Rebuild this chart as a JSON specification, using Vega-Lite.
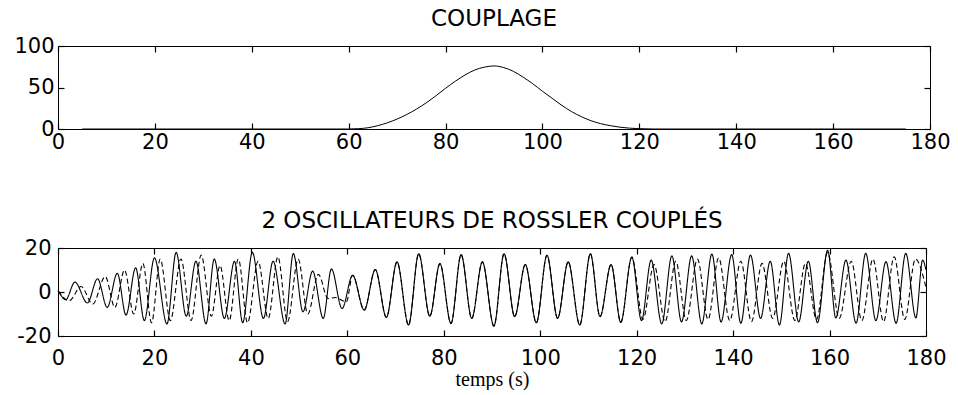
{
  "$schema": "https://vega.github.io/schema/vega-lite/v6.json",
  "background": "white",
  "padding": {"left": 13, "top": 7, "right": 4, "bottom": 0},
  "spacing": 56,
  "config": {
    "font": "DejaVu Sans",
    "view": {"stroke": "black", "strokeWidth": 1},
    "axis": {
      "domain": false, "grid": false, "ticks": true, "tickColor": "#000000", "tickOpacity": 1, "tickSize": 6, "tickWidth": 1.2, "offset": -6,
      "zindex": 2,
      "labelColor": "black", "labelFont": "DejaVu Sans", "labelFontSize": 21, "labelPadding": 5,
      "labelFlush": false, "labelOverlap": false, "labelBound": false, "title": null,
      "labelExpr": "datum.value"
    },
    "title": {"font": "DejaVu Sans", "fontSize": 23, "fontWeight": "normal", "color": "black", "offset": 0}
  },
  "datasets": {
    "coupl": [
      {"t": 5, "c": 0}, {"t": 60, "c": 0}, {"t": 62, "c": 0.4}, {"t": 64, "c": 1.5}, {"t": 66, "c": 4},
      {"t": 68, "c": 7.5}, {"t": 70, "c": 12}, {"t": 72, "c": 17.5}, {"t": 74, "c": 24}, {"t": 76, "c": 31.5},
      {"t": 78, "c": 40}, {"t": 80, "c": 49}, {"t": 82, "c": 57.5}, {"t": 84, "c": 65}, {"t": 86, "c": 71},
      {"t": 88, "c": 74.5}, {"t": 90, "c": 76}, {"t": 92, "c": 74}, {"t": 94, "c": 69.5}, {"t": 96, "c": 62.5},
      {"t": 98, "c": 54.5}, {"t": 100, "c": 45.5}, {"t": 102, "c": 37}, {"t": 104, "c": 28.5}, {"t": 106, "c": 21},
      {"t": 108, "c": 15}, {"t": 110, "c": 10}, {"t": 112, "c": 6.5}, {"t": 114, "c": 4}, {"t": 116, "c": 2.2},
      {"t": 118, "c": 1}, {"t": 120, "c": 0.4}, {"t": 123, "c": 0}, {"t": 175, "c": 0}
    ],
    "osc": [
      {"t": 0, "v": 1.0, "s": "a"}, {"t": 1.6, "v": -3.5, "s": "a"}, {"t": 3.5, "v": 4.5, "s": "a"}, {"t": 6.1, "v": -5, "s": "a"},
      {"t": 8.2, "v": 6, "s": "a"}, {"t": 10.2, "v": -7, "s": "a"}, {"t": 12.3, "v": 8.5, "s": "a"}, {"t": 14.1, "v": -10.5, "s": "a"},
      {"t": 16.1, "v": 11, "s": "a"}, {"t": 17.9, "v": -13, "s": "a"}, {"t": 20.0, "v": 15.5, "s": "a"}, {"t": 22.6, "v": -14.5, "s": "a"},
      {"t": 24.5, "v": 18, "s": "a"}, {"t": 26.6, "v": -11, "s": "a"}, {"t": 28.6, "v": 14, "s": "a"}, {"t": 30.7, "v": -14.5, "s": "a"},
      {"t": 32.4, "v": 15, "s": "a"}, {"t": 34.5, "v": -12, "s": "a"}, {"t": 36.6, "v": 14, "s": "a"}, {"t": 38.3, "v": -14, "s": "a"},
      {"t": 40.3, "v": 18, "s": "a"}, {"t": 42.6, "v": -12, "s": "a"}, {"t": 44.6, "v": 14, "s": "a"}, {"t": 47.1, "v": -14.5, "s": "a"},
      {"t": 48.8, "v": 17.5, "s": "a"}, {"t": 50.8, "v": -9, "s": "a"}, {"t": 52.8, "v": 9.5, "s": "a"}, {"t": 55.0, "v": -12, "s": "a"},
      {"t": 56.7, "v": 10.5, "s": "a"}, {"t": 58.9, "v": -7.5, "s": "a"}, {"t": 61.1, "v": 7.6, "s": "a"}, {"t": 63.5, "v": -8.2, "s": "a"},
      {"t": 65.8, "v": 10.2, "s": "a"}, {"t": 68.1, "v": -11.5, "s": "a"}, {"t": 70.3, "v": 13.7, "s": "a"}, {"t": 72.7, "v": -15, "s": "a"},
      {"t": 74.8, "v": 17.4, "s": "a"}, {"t": 77.1, "v": -11, "s": "a"}, {"t": 79.2, "v": 12.9, "s": "a"}, {"t": 81.5, "v": -14.3, "s": "a"},
      {"t": 83.6, "v": 17, "s": "a"}, {"t": 85.8, "v": -12, "s": "a"}, {"t": 88.0, "v": 13.7, "s": "a"}, {"t": 90.4, "v": -15.5, "s": "a"},
      {"t": 92.5, "v": 17.4, "s": "a"}, {"t": 94.7, "v": -11.2, "s": "a"}, {"t": 96.9, "v": 12.5, "s": "a"}, {"t": 99.2, "v": -14, "s": "a"},
      {"t": 101.4, "v": 16.7, "s": "a"}, {"t": 103.6, "v": -12, "s": "a"}, {"t": 105.8, "v": 13.7, "s": "a"}, {"t": 108.2, "v": -15, "s": "a"},
      {"t": 110.4, "v": 17.4, "s": "a"}, {"t": 112.4, "v": -11.2, "s": "a"}, {"t": 114.7, "v": 12.5, "s": "a"}, {"t": 116.7, "v": -13.8, "s": "a"},
      {"t": 119.0, "v": 15.9, "s": "a"}, {"t": 121.0, "v": -13, "s": "a"}, {"t": 123.0, "v": 14.5, "s": "a"}, {"t": 125.2, "v": -14.5, "s": "a"},
      {"t": 127.3, "v": 16.4, "s": "a"}, {"t": 129.3, "v": -13.6, "s": "a"}, {"t": 131.4, "v": 16.4, "s": "a"}, {"t": 133.5, "v": -14.5, "s": "a"},
      {"t": 135.6, "v": 17.3, "s": "a"}, {"t": 137.5, "v": -13.6, "s": "a"}, {"t": 139.7, "v": 17, "s": "a"}, {"t": 141.6, "v": -14.2, "s": "a"},
      {"t": 143.6, "v": 16.8, "s": "a"}, {"t": 145.7, "v": -12, "s": "a"}, {"t": 147.7, "v": 14, "s": "a"}, {"t": 149.6, "v": -15, "s": "a"},
      {"t": 151.5, "v": 17.6, "s": "a"}, {"t": 153.6, "v": -13.6, "s": "a"}, {"t": 155.6, "v": 14, "s": "a"}, {"t": 157.5, "v": -14, "s": "a"},
      {"t": 159.6, "v": 19, "s": "a"}, {"t": 161.3, "v": -11.8, "s": "a"}, {"t": 163.4, "v": 14.5, "s": "a"}, {"t": 165.5, "v": -14.2, "s": "a"},
      {"t": 167.5, "v": 17.6, "s": "a"}, {"t": 169.6, "v": -13, "s": "a"}, {"t": 171.7, "v": 13.8, "s": "a"}, {"t": 173.8, "v": -14.2, "s": "a"},
      {"t": 175.8, "v": 17.6, "s": "a"}, {"t": 177.9, "v": -11.8, "s": "a"}, {"t": 179.3, "v": 14.5, "s": "a"}, {"t": 180, "v": 10, "s": "a"},

      {"t": 0, "v": 0.5, "s": "b"}, {"t": 2.3, "v": -4, "s": "b"}, {"t": 4.8, "v": 2.5, "s": "b"}, {"t": 7.2, "v": -5.5, "s": "b"},
      {"t": 9.8, "v": 7, "s": "b"}, {"t": 11.8, "v": -7, "s": "b"}, {"t": 13.8, "v": 10, "s": "b"}, {"t": 15.7, "v": -10, "s": "b"},
      {"t": 17.6, "v": 13, "s": "b"}, {"t": 19.4, "v": -14, "s": "b"}, {"t": 21.2, "v": 15, "s": "b"}, {"t": 23.3, "v": -13, "s": "b"},
      {"t": 25.5, "v": 15, "s": "b"}, {"t": 27.6, "v": -13, "s": "b"}, {"t": 29.7, "v": 16.8, "s": "b"}, {"t": 31.8, "v": -11, "s": "b"},
      {"t": 33.6, "v": 12, "s": "b"}, {"t": 35.5, "v": -13, "s": "b"}, {"t": 37.4, "v": 15, "s": "b"}, {"t": 39.3, "v": -14, "s": "b"},
      {"t": 41.5, "v": 14, "s": "b"}, {"t": 43.6, "v": -12, "s": "b"}, {"t": 45.6, "v": 16, "s": "b"}, {"t": 47.6, "v": -13.5, "s": "b"},
      {"t": 49.8, "v": 15, "s": "b"}, {"t": 51.8, "v": -10, "s": "b"}, {"t": 54.0, "v": 8, "s": "b"}, {"t": 56.0, "v": -3, "s": "b"},
      {"t": 57.5, "v": -2.5, "s": "b"}, {"t": 59.8, "v": -4.5, "s": "b"}, {"t": 61.1, "v": 7.6, "s": "b"}, {"t": 63.5, "v": -8.2, "s": "b"},
      {"t": 65.8, "v": 10.2, "s": "b"}, {"t": 68.1, "v": -11.5, "s": "b"}, {"t": 70.3, "v": 13.7, "s": "b"}, {"t": 72.7, "v": -15, "s": "b"},
      {"t": 74.8, "v": 17.4, "s": "b"}, {"t": 77.1, "v": -11, "s": "b"}, {"t": 79.2, "v": 12.9, "s": "b"}, {"t": 81.5, "v": -14.3, "s": "b"},
      {"t": 83.6, "v": 17, "s": "b"}, {"t": 85.8, "v": -12, "s": "b"}, {"t": 88.0, "v": 13.7, "s": "b"}, {"t": 90.4, "v": -15.5, "s": "b"},
      {"t": 92.5, "v": 17.4, "s": "b"}, {"t": 94.7, "v": -11.2, "s": "b"}, {"t": 96.9, "v": 12.5, "s": "b"}, {"t": 99.2, "v": -14, "s": "b"},
      {"t": 101.4, "v": 16.7, "s": "b"}, {"t": 103.6, "v": -12, "s": "b"}, {"t": 105.8, "v": 13.7, "s": "b"}, {"t": 108.2, "v": -15, "s": "b"},
      {"t": 110.4, "v": 17.4, "s": "b"}, {"t": 112.4, "v": -11.2, "s": "b"}, {"t": 114.7, "v": 12.5, "s": "b"}, {"t": 116.7, "v": -13.8, "s": "b"},
      {"t": 119.0, "v": 15.9, "s": "b"}, {"t": 121.3, "v": -12.5, "s": "b"}, {"t": 123.6, "v": 12.5, "s": "b"}, {"t": 125.9, "v": -13.5, "s": "b"},
      {"t": 128.1, "v": 14, "s": "b"}, {"t": 130.3, "v": -13, "s": "b"}, {"t": 132.6, "v": 15, "s": "b"}, {"t": 134.8, "v": -12.5, "s": "b"},
      {"t": 137.0, "v": 15.5, "s": "b"}, {"t": 139.3, "v": -13, "s": "b"}, {"t": 141.6, "v": 14, "s": "b"}, {"t": 143.8, "v": -13.5, "s": "b"},
      {"t": 146.0, "v": 13, "s": "b"}, {"t": 148.2, "v": -12, "s": "b"}, {"t": 150.5, "v": 14, "s": "b"}, {"t": 152.8, "v": -13, "s": "b"},
      {"t": 155.0, "v": 13, "s": "b"}, {"t": 157.3, "v": -12.5, "s": "b"}, {"t": 159.6, "v": 18, "s": "b"}, {"t": 162.0, "v": -12, "s": "b"},
      {"t": 164.5, "v": 14, "s": "b"}, {"t": 166.7, "v": -13, "s": "b"}, {"t": 169.0, "v": 15, "s": "b"}, {"t": 171.2, "v": -13.5, "s": "b"},
      {"t": 173.4, "v": 16, "s": "b"}, {"t": 175.6, "v": -12.5, "s": "b"}, {"t": 177.8, "v": 15, "s": "b"}, {"t": 180, "v": 2, "s": "b"}
    ]
  },
  "vconcat": [
    {
      "title": "COUPLAGE",
      "width": 872,
      "height": 83,
      "data": {"name": "coupl"},
      "layer": [
        {
          "mark": {"type": "line", "color": "black", "strokeWidth": 1, "interpolate": "monotone"},
          "encoding": {
            "x": {"field": "t", "type": "quantitative", "scale": {"domain": [0, 180], "nice": false},
                  "axis": {"orient": "bottom", "values": [0, 20, 40, 60, 80, 100, 120, 140, 160, 180], "labelPadding": 2}},
            "y": {"field": "c", "type": "quantitative", "scale": {"domain": [0, 100], "nice": false},
                  "axis": {"orient": "left", "values": [0, 50, 100], "labelPadding": 4}}
          }
        },
        {
          "mark": {"type": "line", "opacity": 0},
          "encoding": {
            "x": {"field": "t", "type": "quantitative", "scale": {"domain": [0, 180], "nice": false},
                  "axis": {"orient": "top", "labels": false, "values": [0, 20, 40, 60, 80, 100, 120, 140, 160, 180]}},
            "y": {"field": "c", "type": "quantitative", "scale": {"domain": [0, 100], "nice": false},
                  "axis": {"orient": "right", "labels": false, "values": [0, 50, 100]}}
          }
        }
      ],
      "resolve": {"axis": {"x": "independent", "y": "independent"}}
    },
    {
      "title": "2 OSCILLATEURS DE ROSSLER COUPLÉS",
      "width": 868,
      "height": 88,
      "data": {"name": "osc"},
      "layer": [
        {
          "mark": {"type": "line", "color": "black", "strokeWidth": 1.1, "interpolate": "monotone"},
          "encoding": {
            "x": {"field": "t", "type": "quantitative", "scale": {"domain": [0, 180], "nice": false},
                  "axis": {"orient": "bottom", "values": [0, 20, 40, 60, 80, 100, 120, 140, 160, 180], "labelPadding": 11,
                           "title": "temps (s)", "titleFont": "Liberation Serif", "titleFontSize": 20, "titleFontWeight": "normal",
                           "titleColor": "black", "titlePadding": 1}},
            "y": {"field": "v", "type": "quantitative", "scale": {"domain": [-20, 20], "nice": false},
                  "axis": {"orient": "left", "values": [-20, 0, 20], "labelPadding": 7}},
            "strokeDash": {"field": "s", "type": "nominal", "scale": {"domain": ["a", "b"], "range": [[1, 0], [5, 3]]}, "legend": null}
          }
        },
        {
          "mark": {"type": "line", "opacity": 0},
          "encoding": {
            "x": {"field": "t", "type": "quantitative", "scale": {"domain": [0, 180], "nice": false},
                  "axis": {"orient": "top", "labels": false, "values": [0, 20, 40, 60, 80, 100, 120, 140, 160, 180]}},
            "y": {"field": "v", "type": "quantitative", "scale": {"domain": [-20, 20], "nice": false},
                  "axis": {"orient": "right", "labels": false, "values": [-20, 0, 20]}},
            "detail": {"field": "s", "type": "nominal"}
          }
        }
      ],
      "resolve": {"axis": {"x": "independent", "y": "independent"}}
    }
  ]
}
